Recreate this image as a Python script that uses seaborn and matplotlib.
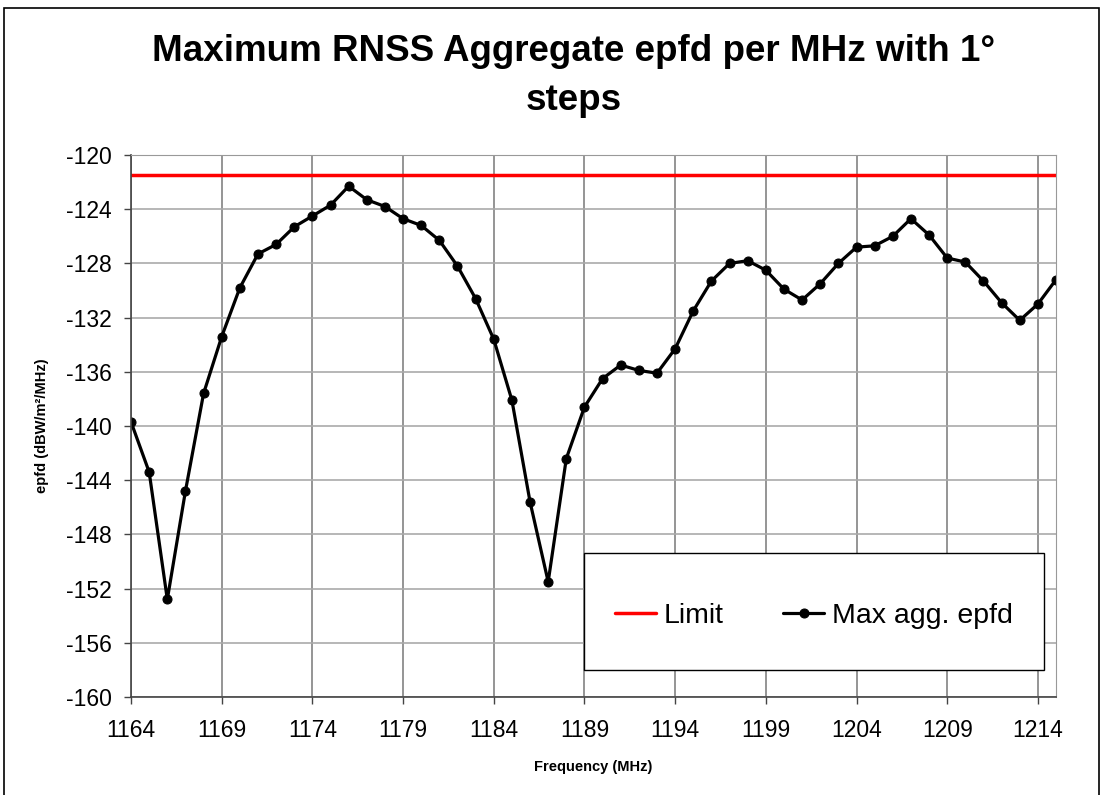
import matplotlib
matplotlib.use("Agg")
import matplotlib.pyplot as plt
import seaborn as sns
import pandas as pd
import numpy as np
from matplotlib.patches import Rectangle

freq = list(range(1164, 1216))
epfd = [-139.7, -143.4, -152.8, -144.8, -137.6, -133.4, -129.8, -127.3, -126.6, -125.3,
        -124.5, -123.7, -122.3, -123.3, -123.8, -124.7, -125.2, -126.3, -128.2, -130.6,
        -133.6, -138.1, -145.6, -151.5, -142.4, -138.6, -136.5, -135.5, -135.9, -136.1,
        -134.3, -131.5, -129.3, -128.0, -127.8, -128.5, -129.9, -130.7, -129.5, -128.0,
        -126.8, -126.7, -126.0, -124.7, -125.9, -127.6, -127.9, -129.3, -130.9, -132.2,
        -131.0, -129.2]
limit_value = -121.5
x_ticks = list(range(1164, 1215, 5))
y_ticks = list(range(-160, -119, 4))

sns.set_style("ticks")
plt.rcParams['font.family'] = ['Liberation Sans', 'DejaVu Sans']
plt.rcParams['axes.unicode_minus'] = False
plt.rcParams['text.color'] = 'black'
plt.rcParams['axes.labelcolor'] = 'black'
plt.rcParams['xtick.color'] = 'black'
plt.rcParams['ytick.color'] = 'black'

fig = plt.figure(figsize=(11.03, 7.95), dpi=100)
ax = fig.add_axes([0.1188, 0.1233, 0.8386, 0.6817])

# figure border
fig.patches.append(Rectangle((4/1103, -0.01), 1095/1103, 1 - 8/795 + 0.01,
                             transform=fig.transFigure, fill=False,
                             edgecolor="black", linewidth=1.2))

df = pd.DataFrame({"freq": freq, "epfd": epfd})
lim_df = pd.DataFrame({"freq": [1164, 1215], "epfd": [limit_value, limit_value]})

sns.lineplot(data=lim_df, x="freq", y="epfd", ax=ax, color="#ff0000", linewidth=2.5,
             label="Limit")
sns.lineplot(data=df, x="freq", y="epfd", ax=ax, color="black", linewidth=2.3,
             marker="o", markersize=6.5, markeredgecolor="black", label="Max agg. epfd")

ax.set_xlim(1164, 1215)
ax.set_ylim(-160, -120)
ax.set_xticks(x_ticks)
ax.set_yticks(y_ticks)
ax.grid(True, axis="x", color="#8c8c8c", linewidth=1.3)
ax.grid(True, axis="y", color="#aaaaaa", linewidth=1.2)
ax.set_axisbelow(True)
ax.tick_params(axis="both", labelsize=16.5, direction="out", length=5, width=1,
               color="#444444")
ax.tick_params(axis="x", pad=11)
ax.tick_params(axis="y", pad=9)
for side in ["top", "right"]:
    ax.spines[side].set_visible(True)
    ax.spines[side].set_color("#999999")
for side in ["left", "bottom"]:
    ax.spines[side].set_color("#444444")
    ax.spines[side].set_linewidth(1.2)

ax.set_xlabel("Frequency (MHz)", fontsize=10.5, fontweight="bold", labelpad=13)
ax.set_ylabel("epfd (dBW/m²/MHz)", fontsize=10.5, fontweight="bold", labelpad=12)

fig.text(574/1103, 1 - 76/795, "Maximum RNSS Aggregate epfd per MHz with 1°\nsteps",
         ha="center", va="center", fontsize=26.5, fontweight="bold", linespacing=1.55)

# legend frame and legend
ax.add_patch(Rectangle((0.4897, 0.0498), 0.4973, 0.2159, transform=ax.transAxes,
                       facecolor="white", edgecolor="black", linewidth=1.0, zorder=5))
leg = ax.legend(loc="center", bbox_to_anchor=(0.738, 0.149), ncol=2, fontsize=20.5,
                frameon=False, handlelength=1.45, handletextpad=0.25,
                columnspacing=2.1, borderpad=0, borderaxespad=0)
leg.set_zorder(6)

fig.savefig("out.png", dpi=100)
